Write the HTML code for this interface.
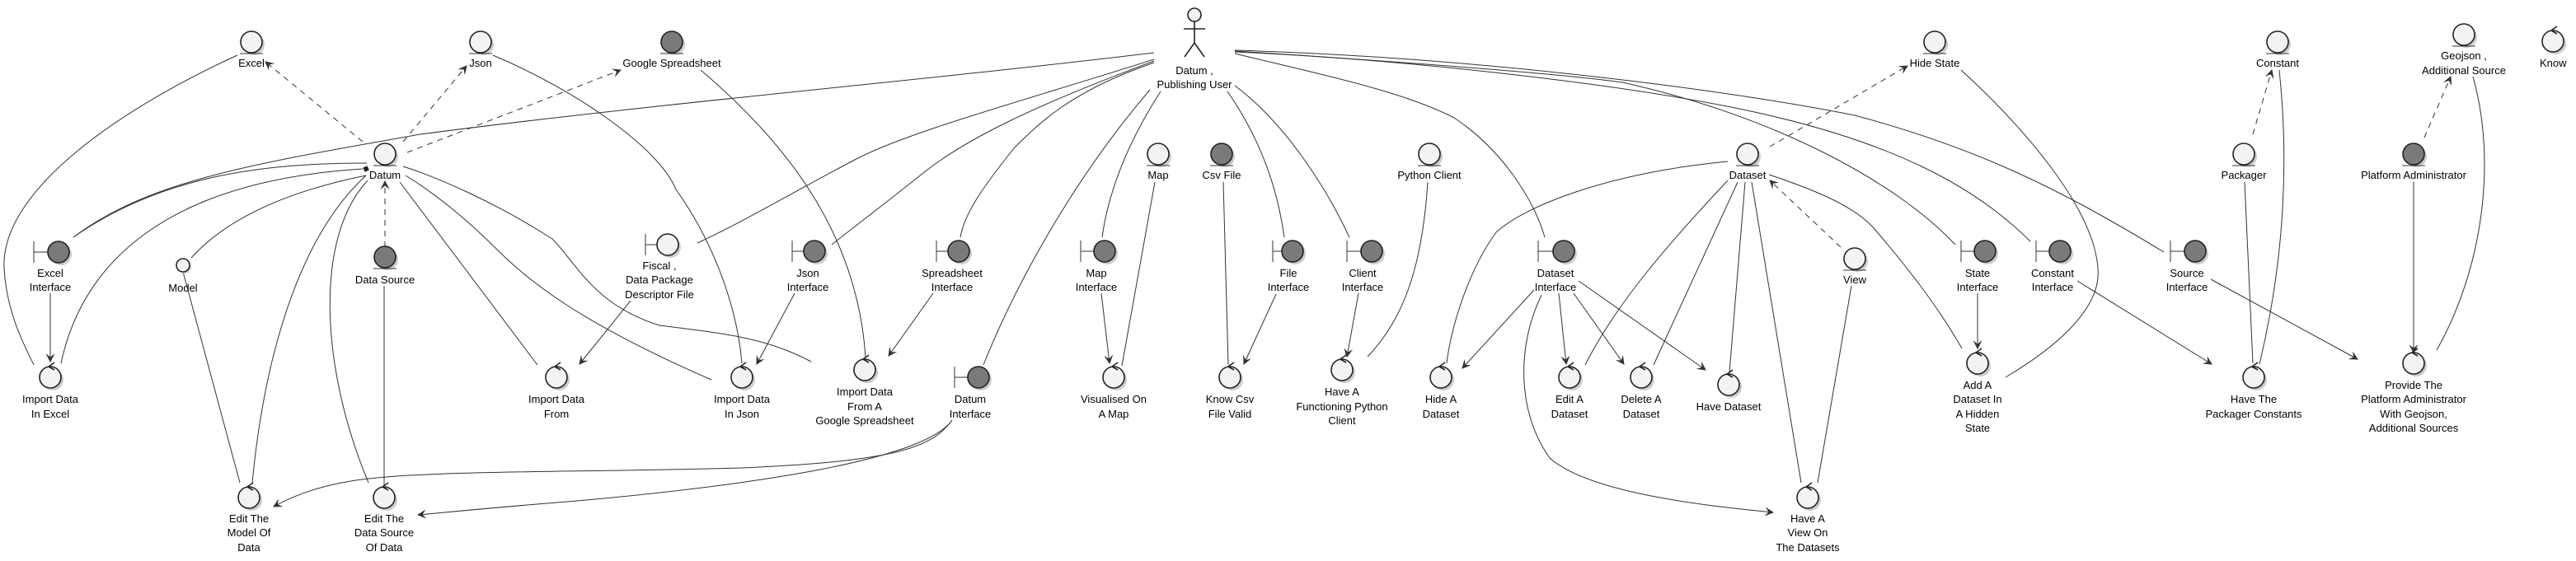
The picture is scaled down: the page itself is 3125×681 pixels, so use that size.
<!DOCTYPE html>
<html><head><meta charset="utf-8"><style>
html,body{margin:0;padding:0;background:#fff;}
svg{display:block;}
text{font-family:"Liberation Sans",sans-serif;font-size:13px;fill:#000;text-anchor:middle;}
.l{fill:none;stroke:#333;stroke-width:1;}
.d{fill:none;stroke:#333;stroke-width:1;stroke-dasharray:7,6;}
.lt{fill:#F3F3F3;stroke:#222;stroke-width:1.6;}
.dk{fill:#7A7A7A;stroke:#222;stroke-width:1.6;}
.sh{fill:#ccc;stroke:none;}
</style></head><body>
<svg width="3125" height="681" viewBox="0 0 3125 681" xmlns="http://www.w3.org/2000/svg">
<defs>
<marker id="a" viewBox="0 0 10 10" refX="9" refY="5" markerWidth="11" markerHeight="11" orient="auto" markerUnits="userSpaceOnUse">
<path d="M0,0 L10,5 L0,10 L4,5 z" fill="#333"/></marker>
</defs>

<!-- dashed -->
<path class="d" d="M440,172 L322,75" marker-end="url(#a)"/>
<path class="d" d="M489,172 L566,80" marker-end="url(#a)"/>
<path class="d" d="M494,185 L753,85" marker-end="url(#a)"/>
<path class="d" d="M467,300 L467,220" marker-end="url(#a)"/>
<path class="d" d="M2147,178 L2314,80" marker-end="url(#a)"/>
<path class="d" d="M2233,300 L2147,219" marker-end="url(#a)"/>
<path class="d" d="M2733,163 L2756,85" marker-end="url(#a)"/>
<path class="d" d="M2941,167 L2973,93" marker-end="url(#a)"/>

<!-- solid lines -->
<path class="l" d="M89,288 C200,210 330,198 445,198"/>
<path class="l" d="M74,441 C100,320 200,220 440,205"/>
<path class="l" d="M232,313 C280,260 360,230 444,213"/>
<path class="l" d="M306,586 C320,440 360,290 444,213"/>
<path class="l" d="M447,586 C390,450 380,290 446,219"/>
<path class="l" d="M652,443 L485,221"/>
<path class="l" d="M863,461 C700,390 640,340 600,300 C560,260 520,230 492,213"/>
<path class="l" d="M984,439 C930,410 880,405 800,395 C720,370 700,320 670,290 C600,245 530,215 489,202"/>
<path class="l" d="M222,330 L291,586"/>
<path class="l" d="M466,347 L466,590"/>
<path class="l" d="M61,356 L61,439" marker-end="url(#a)"/>
<path class="l" d="M288,67 C150,130 0,230 5,326 C8,380 30,420 41,443"/>
<path class="l" d="M598,67 C700,110 800,180 820,230 C870,300 895,380 900,441"/>
<path class="l" d="M850,85 C950,170 1040,280 1050,434"/>
<path class="l" d="M765,365 L703,442" marker-end="url(#a)"/>
<path class="l" d="M964,356 L918,442" marker-end="url(#a)"/>
<path class="l" d="M1132,356 L1078,432" marker-end="url(#a)"/>
<path class="l" d="M1155,510 C1130,545 1080,560 900,568 C700,574 500,570 420,585 C380,592 350,605 332,615" marker-end="url(#a)"/>
<path class="l" d="M1155,510 C1120,560 900,590 700,608 C600,616 540,622 507,625" marker-end="url(#a)"/>

<!-- actor lines -->
<path class="l" d="M1400,64 C1100,100 800,125 510,163 C300,200 180,220 89,288"/>
<path class="l" d="M1400,72 C1250,120 1100,160 1035,195 C950,240 900,270 846,295"/>
<path class="l" d="M1400,74 C1250,130 1170,170 1120,210 C1070,250 1030,280 1009,297"/>
<path class="l" d="M1400,76 C1300,110 1260,150 1230,180 C1190,230 1170,260 1165,288"/>
<path class="l" d="M1395,109 C1300,220 1230,350 1193,443"/>
<path class="l" d="M1408,111 C1370,170 1345,230 1337,288"/>
<path class="l" d="M1489,111 C1530,170 1550,230 1558,288"/>
<path class="l" d="M1498,104 C1560,150 1610,230 1637,288"/>
<path class="l" d="M1498,65 C1600,90 1700,110 1764,143 C1820,180 1860,240 1874,288"/>
<path class="l" d="M1498,62 C1700,75 1900,90 1968,100 C2150,140 2300,220 2372,297"/>
<path class="l" d="M1498,63 C1700,72 1950,100 2100,130 C2300,170 2400,230 2463,293"/>
<path class="l" d="M1498,61 C1800,70 2100,110 2250,140 C2400,180 2500,230 2625,306"/>
<path class="l" d="M2146,212 C2200,230 2250,250 2274,278 C2310,320 2350,370 2380,423"/>
<path class="l" d="M2379,85 C2450,150 2540,250 2545,326 C2550,380 2480,430 2433,458"/>
<path class="l" d="M2399,356 L2399,423" marker-end="url(#a)"/>
<path class="l" d="M2520,341 L2683,442" marker-end="url(#a)"/>
<path class="l" d="M2682,339 L2860,436" marker-end="url(#a)"/>
<path class="l" d="M2723,221 L2733,441"/>
<path class="l" d="M2765,85 C2775,180 2775,300 2741,442"/>
<path class="l" d="M2928,221 L2928,428" marker-end="url(#a)"/>
<path class="l" d="M3000,93 C3030,200 3010,330 2956,425"/>

<!-- dataset interface -->
<path class="l" d="M1861,352 L1774,447" marker-end="url(#a)"/>
<path class="l" d="M1891,356 L1900,442" marker-end="url(#a)"/>
<path class="l" d="M1909,356 L1970,442" marker-end="url(#a)"/>
<path class="l" d="M1915,341 L2069,449" marker-end="url(#a)"/>
<path class="l" d="M1870,358 C1840,420 1840,500 1880,556 C1930,600 2080,615 2151,622" marker-end="url(#a)"/>
<path class="l" d="M2096,196 C1950,210 1850,250 1815,282 C1780,330 1760,400 1755,441"/>
<path class="l" d="M2096,219 C2020,300 1960,370 1923,443"/>
<path class="l" d="M2108,221 L2006,443"/>
<path class="l" d="M2117,221 L2098,452"/>
<path class="l" d="M2125,221 L2185,586"/>
<path class="l" d="M2246,347 L2205,586"/>
<path class="l" d="M1732,221 C1725,330 1700,390 1659,433"/>
<path class="l" d="M1648,356 L1634,433" marker-end="url(#a)"/>
<path class="l" d="M1401,221 L1361,444"/>
<path class="l" d="M1336,356 L1346,441" marker-end="url(#a)"/>
<path class="l" d="M1484,221 L1490,443"/>
<path class="l" d="M1548,357 L1509,442" marker-end="url(#a)"/>

<!-- diamond on Datum -->
<path d="M440,205 l4,-4 l4,4 l-4,4z" fill="#222" transform="rotate(20 444 205)"/>

<!-- entities -->
<g id="ents">
<g><circle class="sh" cx="308" cy="54" r="13"/><circle class="lt" cx="305" cy="51" r="13"/><line class="l" x1="291" y1="65" x2="319" y2="65" stroke-width="1.6"/></g>
<g><circle class="sh" cx="586" cy="54" r="13"/><circle class="lt" cx="583" cy="51" r="13"/><line class="l" x1="569" y1="65" x2="597" y2="65" stroke-width="1.6"/></g>
<g><circle class="sh" cx="818" cy="54" r="13"/><circle class="dk" cx="815" cy="51" r="13"/><line class="l" x1="801" y1="65" x2="829" y2="65" stroke-width="1.6"/></g>
<g><circle class="sh" cx="470" cy="190" r="13"/><circle class="lt" cx="467" cy="187" r="13"/><line class="l" x1="453" y1="201" x2="481" y2="201" stroke-width="1.6"/></g>
<g><circle class="sh" cx="470" cy="315" r="13"/><circle class="dk" cx="467" cy="312" r="13"/><line class="l" x1="453" y1="326" x2="481" y2="326" stroke-width="1.6"/></g>
<g><circle class="sh" cx="1408" cy="190" r="13"/><circle class="lt" cx="1405" cy="187" r="13"/><line class="l" x1="1391" y1="201" x2="1419" y2="201" stroke-width="1.6"/></g>
<g><circle class="sh" cx="1485" cy="190" r="13"/><circle class="dk" cx="1482" cy="187" r="13"/><line class="l" x1="1468" y1="201" x2="1496" y2="201" stroke-width="1.6"/></g>
<g><circle class="sh" cx="1737" cy="190" r="13"/><circle class="lt" cx="1734" cy="187" r="13"/><line class="l" x1="1720" y1="201" x2="1748" y2="201" stroke-width="1.6"/></g>
<g><circle class="sh" cx="2123" cy="190" r="13"/><circle class="lt" cx="2120" cy="187" r="13"/><line class="l" x1="2106" y1="201" x2="2134" y2="201" stroke-width="1.6"/></g>
<g><circle class="sh" cx="2253" cy="317" r="13"/><circle class="lt" cx="2250" cy="314" r="13"/><line class="l" x1="2236" y1="328" x2="2264" y2="328" stroke-width="1.6"/></g>
<g><circle class="sh" cx="2350" cy="54" r="13"/><circle class="lt" cx="2347" cy="51" r="13"/><line class="l" x1="2333" y1="65" x2="2361" y2="65" stroke-width="1.6"/></g>
<g><circle class="sh" cx="2766" cy="54" r="13"/><circle class="lt" cx="2763" cy="51" r="13"/><line class="l" x1="2749" y1="65" x2="2777" y2="65" stroke-width="1.6"/></g>
<g><circle class="sh" cx="2725" cy="190" r="13"/><circle class="lt" cx="2722" cy="187" r="13"/><line class="l" x1="2708" y1="201" x2="2736" y2="201" stroke-width="1.6"/></g>
<g><circle class="sh" cx="2931" cy="190" r="13"/><circle class="dk" cx="2928" cy="187" r="13"/><line class="l" x1="2914" y1="201" x2="2942" y2="201" stroke-width="1.6"/></g>
<g><circle class="sh" cx="2992" cy="45" r="13"/><circle class="lt" cx="2989" cy="42" r="13"/><line class="l" x1="2975" y1="56" x2="3003" y2="56" stroke-width="1.6"/></g>
<g><circle class="sh" cx="224" cy="324" r="8"/><circle class="lt" cx="222" cy="322" r="8"/></g>
</g>

<!-- boundaries -->
<g>
<g><circle class="sh" cx="74" cy="309" r="13"/><line class="l" x1="41" y1="293" x2="41" y2="319" stroke-width="1.6"/><line class="l" x1="41" y1="306" x2="58" y2="306" stroke-width="1.6"/><circle class="dk" cx="71" cy="306" r="13"/></g>
<g><circle class="sh" cx="813" cy="300" r="13"/><line class="l" x1="783" y1="284" x2="783" y2="310" stroke-width="1.6"/><line class="l" x1="783" y1="297" x2="797" y2="297" stroke-width="1.6"/><circle class="lt" cx="810" cy="297" r="13"/></g>
<g><circle class="sh" cx="991" cy="308" r="13"/><line class="l" x1="961" y1="292" x2="961" y2="318" stroke-width="1.6"/><line class="l" x1="961" y1="305" x2="975" y2="305" stroke-width="1.6"/><circle class="dk" cx="988" cy="305" r="13"/></g>
<g><circle class="sh" cx="1166" cy="308" r="13"/><line class="l" x1="1136" y1="292" x2="1136" y2="318" stroke-width="1.6"/><line class="l" x1="1136" y1="305" x2="1150" y2="305" stroke-width="1.6"/><circle class="dk" cx="1163" cy="305" r="13"/></g>
<g><circle class="sh" cx="1190" cy="461" r="13"/><line class="l" x1="1158" y1="445" x2="1158" y2="471" stroke-width="1.6"/><line class="l" x1="1158" y1="458" x2="1174" y2="458" stroke-width="1.6"/><circle class="dk" cx="1187" cy="458" r="13"/></g>
<g><circle class="sh" cx="1343" cy="308" r="13"/><line class="l" x1="1311" y1="292" x2="1311" y2="318" stroke-width="1.6"/><line class="l" x1="1311" y1="305" x2="1327" y2="305" stroke-width="1.6"/><circle class="dk" cx="1340" cy="305" r="13"/></g>
<g><circle class="sh" cx="1571" cy="308" r="13"/><line class="l" x1="1544" y1="292" x2="1544" y2="318" stroke-width="1.6"/><line class="l" x1="1544" y1="305" x2="1555" y2="305" stroke-width="1.6"/><circle class="dk" cx="1568" cy="305" r="13"/></g>
<g><circle class="sh" cx="1667" cy="308" r="13"/><line class="l" x1="1634" y1="292" x2="1634" y2="318" stroke-width="1.6"/><line class="l" x1="1634" y1="305" x2="1651" y2="305" stroke-width="1.6"/><circle class="dk" cx="1664" cy="305" r="13"/></g>
<g><circle class="sh" cx="1900" cy="308" r="13"/><line class="l" x1="1866" y1="292" x2="1866" y2="318" stroke-width="1.6"/><line class="l" x1="1866" y1="305" x2="1884" y2="305" stroke-width="1.6"/><circle class="dk" cx="1897" cy="305" r="13"/></g>
<g><circle class="sh" cx="2411" cy="308" r="13"/><line class="l" x1="2379" y1="292" x2="2379" y2="318" stroke-width="1.6"/><line class="l" x1="2379" y1="305" x2="2395" y2="305" stroke-width="1.6"/><circle class="dk" cx="2408" cy="305" r="13"/></g>
<g><circle class="sh" cx="2502" cy="308" r="13"/><line class="l" x1="2470" y1="292" x2="2470" y2="318" stroke-width="1.6"/><line class="l" x1="2470" y1="305" x2="2486" y2="305" stroke-width="1.6"/><circle class="dk" cx="2499" cy="305" r="13"/></g>
<g><circle class="sh" cx="2666" cy="308" r="13"/><line class="l" x1="2633" y1="292" x2="2633" y2="318" stroke-width="1.6"/><line class="l" x1="2633" y1="305" x2="2650" y2="305" stroke-width="1.6"/><circle class="dk" cx="2663" cy="305" r="13"/></g>
</g>

<!-- controls -->
<g stroke="#222" stroke-width="1.6">
<g><circle class="sh" cx="64" cy="461" r="13"/><circle class="lt" cx="61" cy="458" r="13"/><path d="M66,440 L59,445 L66,449" fill="none"/></g>
<g><circle class="sh" cx="678" cy="461" r="13"/><circle class="lt" cx="675" cy="458" r="13"/><path d="M680,440 L673,445 L680,449" fill="none"/></g>
<g><circle class="sh" cx="305" cy="607" r="13"/><circle class="lt" cx="302" cy="604" r="13"/><path d="M307,586 L300,591 L307,595" fill="none"/></g>
<g><circle class="sh" cx="469" cy="607" r="13"/><circle class="lt" cx="466" cy="604" r="13"/><path d="M471,586 L464,591 L471,595" fill="none"/></g>
<g><circle class="sh" cx="903" cy="461" r="13"/><circle class="lt" cx="900" cy="458" r="13"/><path d="M905,440 L898,445 L905,449" fill="none"/></g>
<g><circle class="sh" cx="1052" cy="452" r="13"/><circle class="lt" cx="1049" cy="449" r="13"/><path d="M1054,431 L1047,436 L1054,440" fill="none"/></g>
<g><circle class="sh" cx="1354" cy="461" r="13"/><circle class="lt" cx="1351" cy="458" r="13"/><path d="M1356,440 L1349,445 L1356,449" fill="none"/></g>
<g><circle class="sh" cx="1495" cy="461" r="13"/><circle class="lt" cx="1492" cy="458" r="13"/><path d="M1497,440 L1490,445 L1497,449" fill="none"/></g>
<g><circle class="sh" cx="1631" cy="452" r="13"/><circle class="lt" cx="1628" cy="449" r="13"/><path d="M1633,431 L1626,436 L1633,440" fill="none"/></g>
<g><circle class="sh" cx="1751" cy="461" r="13"/><circle class="lt" cx="1748" cy="458" r="13"/><path d="M1753,440 L1746,445 L1753,449" fill="none"/></g>
<g><circle class="sh" cx="1907" cy="461" r="13"/><circle class="lt" cx="1904" cy="458" r="13"/><path d="M1909,440 L1902,445 L1909,449" fill="none"/></g>
<g><circle class="sh" cx="1994" cy="461" r="13"/><circle class="lt" cx="1991" cy="458" r="13"/><path d="M1996,440 L1989,445 L1996,449" fill="none"/></g>
<g><circle class="sh" cx="2100" cy="470" r="13"/><circle class="lt" cx="2097" cy="467" r="13"/><path d="M2102,449 L2095,454 L2102,458" fill="none"/></g>
<g><circle class="sh" cx="2196" cy="607" r="13"/><circle class="lt" cx="2193" cy="604" r="13"/><path d="M2198,586 L2191,591 L2198,595" fill="none"/></g>
<g><circle class="sh" cx="2402" cy="444" r="13"/><circle class="lt" cx="2399" cy="441" r="13"/><path d="M2404,423 L2397,428 L2404,432" fill="none"/></g>
<g><circle class="sh" cx="2737" cy="461" r="13"/><circle class="lt" cx="2734" cy="458" r="13"/><path d="M2739,440 L2732,445 L2739,449" fill="none"/></g>
<g><circle class="sh" cx="2931" cy="444" r="13"/><circle class="lt" cx="2928" cy="441" r="13"/><path d="M2933,423 L2926,428 L2933,432" fill="none"/></g>
<g><circle class="sh" cx="3100" cy="53" r="13"/><circle class="lt" cx="3097" cy="50" r="13"/><path d="M3102,32 L3095,37 L3102,41" fill="none"/></g>
</g>

<!-- actor -->
<g stroke="#222" stroke-width="1.6" fill="none">
<circle cx="1449" cy="18" r="8" fill="#F3F3F3"/>
<line x1="1449" y1="26" x2="1449" y2="52"/>
<line x1="1436" y1="35" x2="1462" y2="35"/>
<path d="M1437,69 L1449,52 L1461,69"/>
</g>

<!-- labels -->
<text x="305" y="81">Excel</text>
<text x="583" y="81">Json</text>
<text x="815" y="81">Google Spreadsheet</text>
<text x="467" y="217">Datum</text>
<text x="467" y="344">Data Source</text>
<text x="222" y="354">Model</text>
<text x="61" y="336">Excel</text><text x="61" y="353">Interface</text>
<text x="800" y="327">Fiscal ,</text><text x="800" y="344">Data Package</text><text x="800" y="362">Descriptor File</text>
<text x="980" y="336">Json</text><text x="980" y="353">Interface</text>
<text x="1155" y="336">Spreadsheet</text><text x="1155" y="353">Interface</text>
<text x="1177" y="489">Datum</text><text x="1177" y="507">Interface</text>
<text x="1330" y="336">Map</text><text x="1330" y="353">Interface</text>
<text x="1563" y="336">File</text><text x="1563" y="353">Interface</text>
<text x="1653" y="336">Client</text><text x="1653" y="353">Interface</text>
<text x="1887" y="336">Dataset</text><text x="1887" y="353">Interface</text>
<text x="2399" y="336">State</text><text x="2399" y="353">Interface</text>
<text x="2490" y="336">Constant</text><text x="2490" y="353">Interface</text>
<text x="2653" y="336">Source</text><text x="2653" y="353">Interface</text>
<text x="1449" y="90">Datum ,</text><text x="1449" y="107">Publishing User</text>
<text x="1405" y="217">Map</text>
<text x="1482" y="217">Csv File</text>
<text x="1734" y="217">Python Client</text>
<text x="2120" y="217">Dataset</text>
<text x="2250" y="344">View</text>
<text x="2347" y="81">Hide State</text>
<text x="2763" y="81">Constant</text>
<text x="2722" y="217">Packager</text>
<text x="2928" y="217">Platform Administrator</text>
<text x="2989" y="72">Geojson ,</text><text x="2989" y="90">Additional Source</text>
<text x="3081" y="81" style="text-anchor:start">Know</text>
<text x="61" y="489">Import Data</text><text x="61" y="507">In Excel</text>
<text x="675" y="489">Import Data</text><text x="675" y="507">From</text>
<text x="302" y="634">Edit The</text><text x="302" y="651">Model Of</text><text x="302" y="669">Data</text>
<text x="466" y="634">Edit The</text><text x="466" y="651">Data Source</text><text x="466" y="669">Of Data</text>
<text x="900" y="489">Import Data</text><text x="900" y="507">In Json</text>
<text x="1049" y="480">Import Data</text><text x="1049" y="498">From A</text><text x="1049" y="515">Google Spreadsheet</text>
<text x="1351" y="489">Visualised On</text><text x="1351" y="507">A Map</text>
<text x="1492" y="489">Know Csv</text><text x="1492" y="507">File Valid</text>
<text x="1628" y="480">Have A</text><text x="1628" y="498">Functioning Python</text><text x="1628" y="515">Client</text>
<text x="1748" y="489">Hide A</text><text x="1748" y="507">Dataset</text>
<text x="1904" y="489">Edit A</text><text x="1904" y="507">Dataset</text>
<text x="1991" y="489">Delete A</text><text x="1991" y="507">Dataset</text>
<text x="2097" y="498">Have Dataset</text>
<text x="2193" y="634">Have A</text><text x="2193" y="651">View On</text><text x="2193" y="669">The Datasets</text>
<text x="2399" y="472">Add A</text><text x="2399" y="489">Dataset In</text><text x="2399" y="507">A Hidden</text><text x="2399" y="524">State</text>
<text x="2734" y="489">Have The</text><text x="2734" y="507">Packager Constants</text>
<text x="2928" y="472">Provide The</text><text x="2928" y="489">Platform Administrator</text><text x="2928" y="507">With Geojson,</text><text x="2928" y="524">Additional Sources</text>
</svg>
</body></html>
